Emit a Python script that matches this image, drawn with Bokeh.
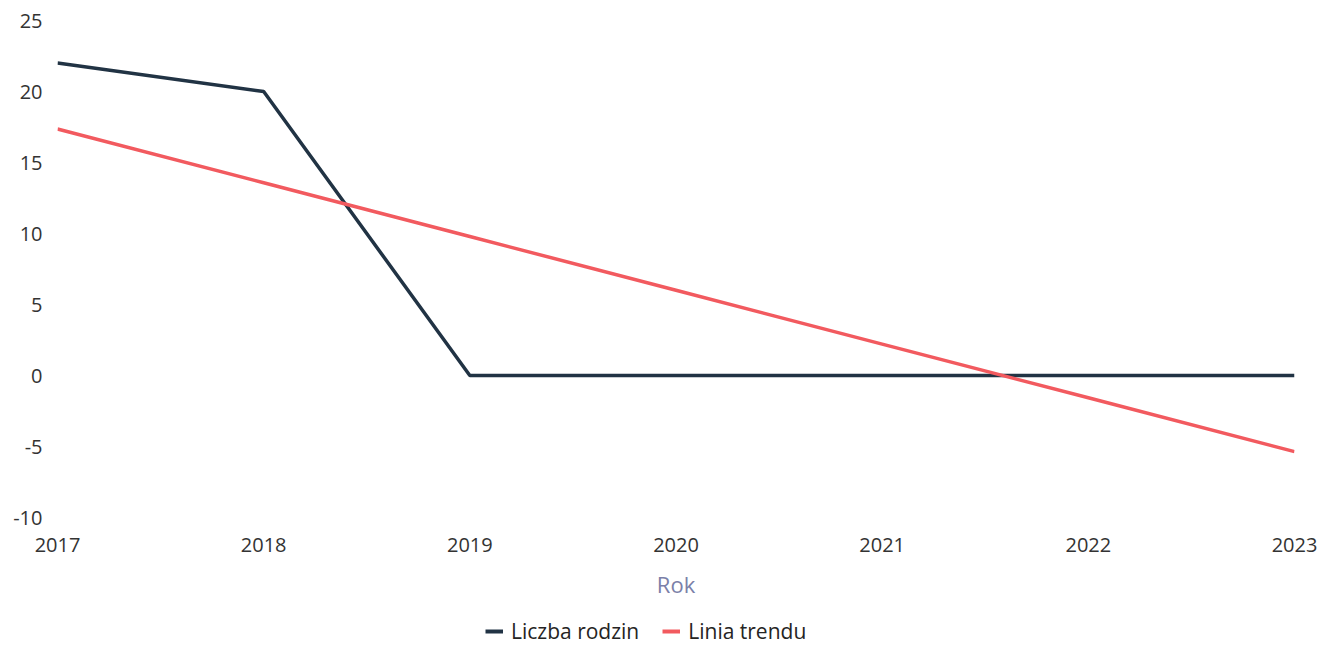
from bokeh.plotting import figure
from bokeh.layouts import column
from bokeh.models import Range1d, FixedTicker, Legend, LegendItem
from bokeh.embed import file_html
from bokeh.resources import INLINE

years = [2017, 2018, 2019, 2020, 2021, 2022, 2023]
liczba_rodzin = [22, 20, 0, 0, 0, 0, 0]
linia_trendu = [17.36, 13.57, 9.79, 6.0, 2.21, -1.57, -5.36]
y_ticks = [-10, -5, 0, 5, 10, 15, 20, 25]

FONT = "Open Sans"
TXT = "#333333"
NAVY = "#213344"
RED = "#f25a5f"

p = figure(frame_width=1237, frame_height=497, output_backend="svg", toolbar_location=None,
           x_range=Range1d(2017, 2023), y_range=Range1d(-10, 25),
           min_border_left=57, min_border_right=27, min_border_top=20,
           min_border_bottom=88)
p.outline_line_color = None
p.grid.visible = False

p.line(years, liczba_rodzin, line_color=NAVY, line_width=3.5)
p.line(years, linia_trendu, line_color=RED, line_width=3.5)

p.xaxis.ticker = FixedTicker(ticks=years)
p.yaxis.ticker = FixedTicker(ticks=y_ticks)
p.yaxis.major_label_overrides = {t: str(t) for t in y_ticks}
for ax in (p.xaxis[0], p.yaxis[0]):
    ax.axis_line_color = None
    ax.major_tick_line_color = None
    ax.minor_tick_line_color = None
    ax.major_label_text_font = FONT
    ax.major_label_text_font_size = "20px"
    ax.major_label_text_color = TXT
p.yaxis.major_label_standoff = 9
p.xaxis.major_label_standoff = 14
p.xaxis.axis_label = "Rok"
p.xaxis.axis_label_text_font = FONT
p.xaxis.axis_label_text_font_style = "normal"
p.xaxis.axis_label_text_font_size = "22px"
p.xaxis.axis_label_text_color = "#7b80a8"
p.xaxis.axis_label_standoff = 14

# legend strip below the chart (same series, drawn out of view; only the legend shows)
pl = figure(frame_width=1321, frame_height=42, output_backend="svg", toolbar_location=None,
            x_range=Range1d(0, 1), y_range=Range1d(1000, 1001),
            x_axis_location=None, y_axis_location=None,
            min_border_left=0, min_border_right=0, min_border_top=0, min_border_bottom=0)
pl.outline_line_color = None
pl.grid.visible = False
l1 = pl.line(years, liczba_rodzin, line_color=NAVY, line_width=4)
l2 = pl.line(years, linia_trendu, line_color=RED, line_width=4)

legend = Legend(items=[LegendItem(label="Liczba rodzin", renderers=[l1]),
                       LegendItem(label="Linia trendu", renderers=[l2])],
                orientation="horizontal", location=(485, 2),
                label_text_font=FONT, label_text_font_size="21px",
                label_text_color="#252423", glyph_width=18, glyph_height=16,
                label_standoff=8, spacing=23, padding=2, margin=0,
                border_line_color=None, background_fill_alpha=0)
pl.add_layout(legend, "center")

layout = column(p, pl, spacing=0)
open("out.html", "w").write(file_html(layout, INLINE))
